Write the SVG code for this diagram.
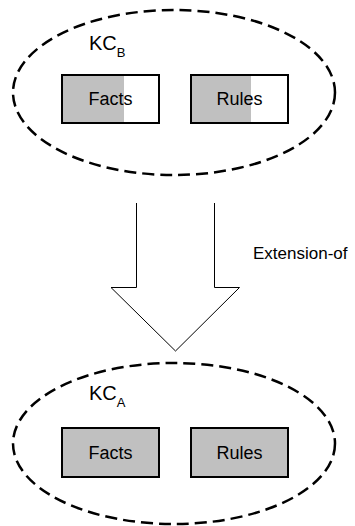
<svg xmlns="http://www.w3.org/2000/svg" width="355" height="526" viewBox="0 0 355 526">
  <style>
    .kc { fill: none; stroke: #000; stroke-width: 2.5; stroke-dasharray: 12 6; }
    .box { stroke: #000; stroke-width: 2; }
    .shade { fill: #c0c0c0; }
    .lbl { font-family: "Liberation Sans", Arial, sans-serif; fill: #000; }
    .item { font-size: 18px; text-anchor: middle; }
    .title { font-size: 20px; }
    .sub { font-size: 13px; }
    .arrow { fill: #fff; stroke: #000; stroke-width: 1; }
  </style>
  <rect width="355" height="526" fill="#fff"/>

  <!-- KC_B: partially filled knowledge components -->
  <g id="kc-b">
    <ellipse class="kc" cx="174" cy="92.5" rx="161" ry="82.5"/>
    <text class="lbl title" x="89" y="49.5">KC<tspan class="sub" dy="7">B</tspan></text>
  </g>
  <g id="kc-b-facts">
    <rect x="62" y="75" width="97" height="48" fill="#fff" class="box"/>
    <rect class="shade" x="63" y="76" width="61" height="46"/>
    <rect x="62" y="75" width="97" height="48" fill="none" class="box"/>
    <text class="lbl item" x="110.5" y="105">Facts</text>
  </g>
  <g id="kc-b-rules">
    <rect x="191" y="75" width="97" height="48" fill="#fff" class="box"/>
    <rect class="shade" x="192" y="76" width="59" height="46"/>
    <rect x="191" y="75" width="97" height="48" fill="none" class="box"/>
    <text class="lbl item" x="239.5" y="105">Rules</text>
  </g>

  <!-- KC_A: fully filled knowledge components -->
  <g id="kc-a">
    <ellipse class="kc" cx="174" cy="443.5" rx="161" ry="80.5"/>
    <text class="lbl title" x="89" y="400">KC<tspan class="sub" dy="7">A</tspan></text>
  </g>
  <g id="kc-a-facts">
    <rect x="62" y="428" width="97" height="49" class="box shade"/>
    <text class="lbl item" x="110.5" y="459">Facts</text>
  </g>
  <g id="kc-a-rules">
    <rect x="191" y="428" width="97" height="49" class="box shade"/>
    <text class="lbl item" x="239.5" y="459">Rules</text>
  </g>

  <!-- extension relation: open block arrow -->
  <g id="connectors">
    <path class="arrow" d="M136.5 203 V287.5 H111 L175.5 351 L239.5 287.5 H214.5 V203"/>
    <text class="lbl" x="253" y="259" font-size="17">Extension-of</text>
  </g>
</svg>
